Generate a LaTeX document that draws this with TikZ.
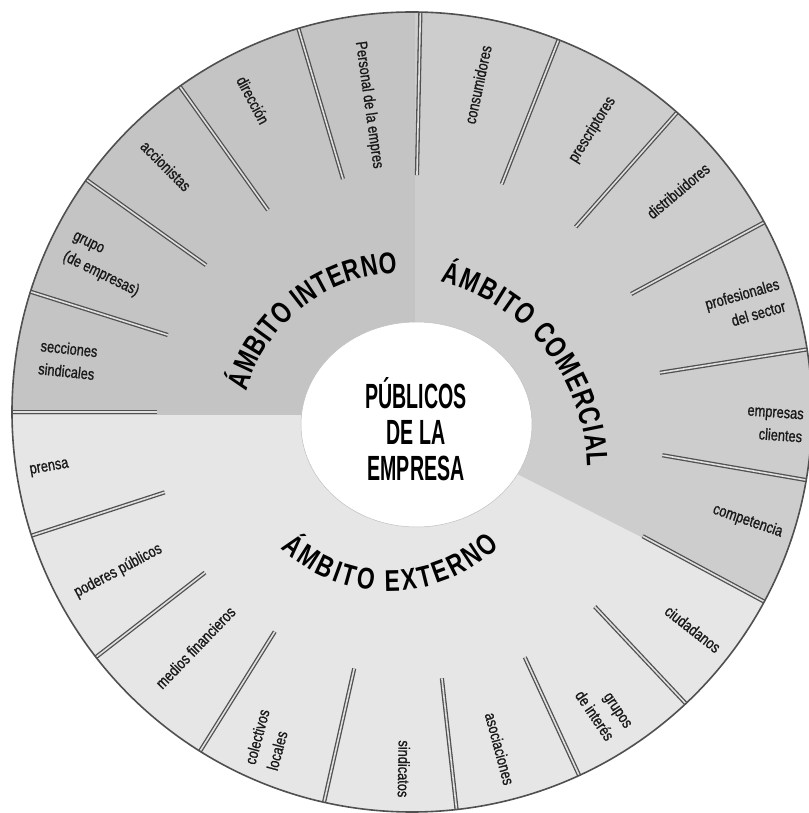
\documentclass[tikz,border=0pt]{standalone}
\usepackage{fontspec}
\setmainfont{Liberation Sans}
\newfontfamily\lblfont{Liberation Sans}[FakeStretch=0.8,FakeBold=1]
\newfontfamily\ttlfont{Liberation Sans}[FakeStretch=0.76]
\newfontfamily\ctrfont{Liberation Sans}[FakeStretch=0.56]
\usetikzlibrary{decorations.text}
\definecolor{intcol}{HTML}{C4C4C4}
\definecolor{comcol}{HTML}{CDCDCD}
\definecolor{extcol}{HTML}{E6E6E6}
\definecolor{sepcol}{HTML}{505050}

\begin{document}
\begin{tikzpicture}[x=1pt,y=1pt,
  sep/.style={draw=sepcol,line width=1.3pt,double=white!88!black,double distance=1.6pt},
  lbl/.style={font=\lblfont\fontsize{16}{23}\selectfont,inner sep=0pt,text=black!90},
  ttl/.style={decorate,decoration={text along path,text align=fit to path,
    text={|\ttlfont\bfseries\fontsize{30}{32}\selectfont|#1}}}]
\useasboundingbox (-412,-401) rectangle (396,412);
% sectores
\begin{scope}
\clip (0,0) circle[radius=400pt];
\fill[extcol] (-420,-420) rectangle (420,420);
\fill[intcol] (3,-3)--(3,420)--(-420,420)--(-420,-3)--cycle;
\fill[comcol] (3,-10)--(3,420)--(420,420)--(420,-222)--cycle;
\end{scope}
% separadores
\foreach \a/\r in {180/255,162.5/256,144.5/253,125.5/248,106.5/243,88.8/237,
  68.5/245,48.5/247,28.3/249,9/251,-9.8/254,-28.3/262,
  198/260,217.8/262,238/259,257.3/263,276.4/268,294.7/270,313.2/267}
  \draw[sep] (\a:\r pt)--(\a:400pt);
\draw[sepcol,line width=1.6pt] (0,0) circle[radius=400pt];
% centro
\fill[white,draw=black!25,line width=0.5pt] (4.5,-12.5) ellipse[x radius=115.5pt,y radius=102.5pt];
\node[align=center,font=\ctrfont\bfseries\fontsize{35}{36}\selectfont] (centro) at (4,-17) {PÚBLICOS\\DE LA\\EMPRESA};
% titulos
\path[ttl={ÁMBITO INTERNO}] ([shift={(-9,-24)}]164:163pt) arc[start angle=164,end angle=92,radius=163pt];
\path[ttl={ÁMBITO COMERCIAL}] ([shift={(-19,-58)}]75.7:194pt) arc[start angle=75.7,end angle=1,radius=194pt];
\path[ttl={ÁMBITO EXTERNO}] ([shift={(-23,-20)}]227:159pt) arc[start angle=227,end angle=314,radius=159pt];
% ambito interno
\node[lbl,rotate=-82] (personal) at (98:310pt) {Personal de la empres};
\node[lbl,rotate=-62] (direccion) at (117:350pt) {dirección};
\node[lbl,rotate=-45] (accionistas) at (135:348pt) {accionistas};
\node[lbl,rotate=-26,align=left] (grupo) at (154.4:340pt) {grupo\\(de empresas)};
\node[lbl,rotate=-6,align=left] (secciones) at (171.4:348pt) {secciones\\sindicales};
% ambito comercial
\node[lbl,rotate=78] (consumidores) at (78.6:334pt) {consumidores};
\node[lbl,rotate=58] (prescriptores) at (57.4:335pt) {prescriptores};
\node[lbl,rotate=40] (distribuidores) at (39.7:346pt) {distribuidores};
\node[lbl,rotate=16,align=right] (profesionales) at (17.8:350pt) {profesionales\\del sector};
\node[lbl,rotate=-4,align=right] (clientes) at (-2:363pt) {empresas\\clientes};
\node[lbl,rotate=-19] (competencia) at (-18:353pt) {competencia};
% ambito externo
\node[lbl,rotate=10] (prensa) at (188.8:367pt) {prensa};
\node[lbl,rotate=28] (poderes) at (208.4:334pt) {poderes públicos};
\node[lbl,rotate=46] (medios) at (227.4:320pt) {medios financieros};
\node[lbl,rotate=75,align=left] (colectivos) at (246.3:358pt) {colectivos\\locales};
\node[lbl,rotate=-91] (sindicatos) at (268.7:357pt) {sindicatos};
\node[lbl,rotate=-75] (asociaciones) at (284.6:348pt) {asociaciones};
\node[lbl,rotate=-56,align=right] (grupos) at (302.7:354pt) {grupos\\de interés};
\node[lbl,rotate=-38] (ciudadanos) at (322.3:355pt) {ciudadanos};
\end{tikzpicture}
\end{document}
